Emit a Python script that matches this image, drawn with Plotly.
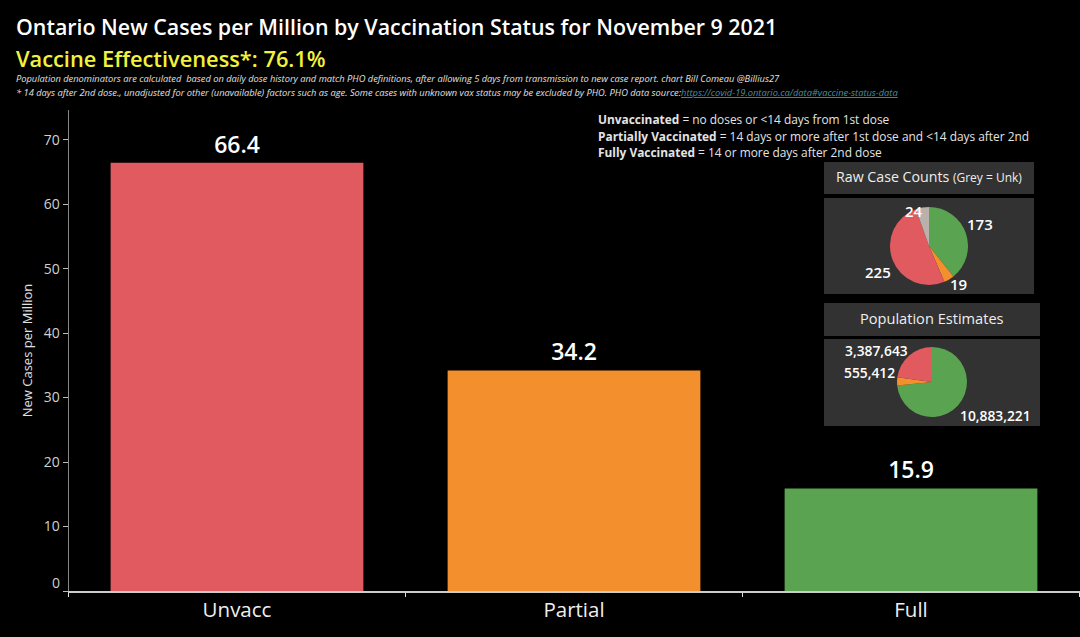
import plotly.graph_objects as go

W = 1080
H = 637

categories = ["Unvacc", "Partial", "Full"]
rates = [66.4, 34.2, 15.9]
bar_colors = ["#e05a60", "#f38f2c", "#5aa351"]
y_ticks = [0, 10, 20, 30, 40, 50, 60, 70]

case_labels = ["Full", "Partial", "Unvacc", "Unk"]
case_counts = [173, 19, 225, 24]
case_colors = ["#5aa351", "#f38f2c", "#e05a60", "#bab0ac"]

pop_labels = ["Full", "Partial", "Unvacc"]
pop_counts = [10883221, 555412, 3387643]
pop_colors = ["#5aa351", "#f38f2c", "#e05a60"]

FONT = "Open Sans"


# everything below is placed in pixels of the 1080x637 page
def px(x):
    return x / W


def py(y):
    return 1 - y / H


def pie_domain(cx, cy, r):
    return dict(x=[px(cx - r), px(cx + r)], y=[py(cy + r), py(cy - r)])


def note(x, y, text, size, color="white", anchor="left", weight=None):
    return dict(xref="paper", yref="paper", x=px(x), y=py(y), text=text, showarrow=False,
                xanchor=anchor, yanchor="middle", align="left", borderpad=0,
                font=dict(family=FONT, size=size, color=color, weight=weight))


def panel(x0, y0, x1, y1):
    return dict(type="rect", xref="paper", yref="paper", x0=px(x0), x1=px(x1), y0=py(y1), y1=py(y0),
                fillcolor="#323232", line_width=0, layer="below")


fig = go.Figure()

fig.add_trace(go.Bar(x=categories, y=rates, width=0.75, marker_color=bar_colors, marker_line_width=0,
                     text=[f"{v:.1f}" for v in rates], textposition="outside", cliponaxis=False,
                     textfont=dict(family=FONT, size=23, color="white", weight=600), showlegend=False))

fig.add_trace(go.Pie(labels=case_labels, values=case_counts, sort=False, direction="clockwise", rotation=0,
                     marker=dict(colors=case_colors, line_width=0), textinfo="none", showlegend=False,
                     domain=pie_domain(929, 246, 39)))
fig.add_trace(go.Pie(labels=pop_labels, values=pop_counts, sort=False, direction="clockwise", rotation=0,
                     marker=dict(colors=pop_colors, line_width=0), textinfo="none", showlegend=False,
                     domain=pie_domain(932, 382, 35)))

annotations = [
    note(14.5, 27, "Ontario New Cases per Million by Vaccination Status for November 9 2021", 21.4, weight=600),
    note(14.5, 58, "Vaccine Effectiveness*: 76.1%", 21.8, color="#f2f23c", weight=600),
    note(14.5, 78, "<i>Population denominators are calculated  based on daily dose history and match PHO definitions, "
                   "after allowing 5 days from transmission to new case report. chart Bill Comeau @Billius27</i>",
         9.3, color="#e0e0e0"),
    note(14.5, 92, "<i>* 14 days after 2nd dose., unadjusted for other (unavailable) factors such as age. Some cases with "
                   "unknown vax status may be excluded by PHO. PHO data source:</i>"
                   "<a href='https://covid-19.ontario.ca/data#vaccine-status-data' style='color:#4f8f9f'>"
                   "<i><u>https://covid-19.ontario.ca/data#vaccine-status-data</u></i></a>", 9.3, color="#e0e0e0"),
    note(596.5, 119, "<b>Unvaccinated</b> = no doses or &lt;14 days from 1st dose", 11.9, color="#e4e4e4"),
    note(596.5, 136, "<b>Partially Vaccinated</b> = 14 days or more after 1st dose and &lt;14 days after 2nd", 11.9, color="#e4e4e4"),
    note(596.5, 152, "<b>Fully Vaccinated</b> = 14 or more days after 2nd dose", 11.9, color="#e4e4e4"),
    note(929, 177, "Raw Case Counts <span style='font-size:12px'>(Grey = Unk)</span>", 14.2, color="#eeeeee", anchor="center"),
    note(932, 318, "Population Estimates", 14.6, color="#eeeeee", anchor="center"),
    note(980, 224, f"{case_counts[0]}", 15, anchor="center", weight=600),
    note(958, 284, f"{case_counts[1]}", 15, anchor="center", weight=600),
    note(878, 272, f"{case_counts[2]}", 15, anchor="center", weight=600),
    note(914, 211, f"{case_counts[3]}", 15, anchor="center", weight=600),
    note(995, 415, f"{pop_counts[0]:,}", 13.8, anchor="center", weight=600),
    note(869, 373, f"{pop_counts[1]:,}", 13.8, anchor="center", weight=600),
    note(876, 351, f"{pop_counts[2]:,}", 13.8, anchor="center", weight=600),
    note(56, 582, "0", 14, color="#d0d0d0", anchor="center"),
]

fig.update_layout(
    width=W, height=H, margin=dict(l=0, r=0, t=0, b=0),
    paper_bgcolor="black", plot_bgcolor="black",
    font=dict(family=FONT, color="white"),
    shapes=[panel(824, 162, 1034, 194), panel(824, 198, 1034, 294),
            panel(824, 303, 1040, 336), panel(824, 339, 1040, 426)],
    annotations=annotations,
)

fig.update_xaxes(domain=[px(68.5), px(1079.5)], type="category", tickson="boundaries", ticks="outside", ticklen=4,
                 tickcolor="#dddddd", tickwidth=1, showline=True, linecolor="#cccccc", linewidth=1.5, showgrid=False,
                 tickfont=dict(family=FONT, size=20.5, color="#eeeeee"))
fig.update_yaxes(domain=[py(591), py(110)], range=[0, 74.6], tickvals=y_ticks, ticktext=[""] + [str(t) for t in y_ticks[1:]],
                 ticks="outside", ticklen=5, tickcolor="#bbbbbb", tickwidth=1, showline=True, linecolor="#888888",
                 linewidth=1, showgrid=False, zeroline=False, tickfont=dict(family=FONT, size=14, color="#d0d0d0"),
                 title=dict(text="New Cases per Million", font=dict(family=FONT, size=13, color="#e0e0e0"), standoff=8))

# drop the browser's default page margin so the figure fills the window
fig.write_html("out.html", config={"displayModeBar": False},
               post_script="document.body.style.margin='0';document.body.style.background='black';")
